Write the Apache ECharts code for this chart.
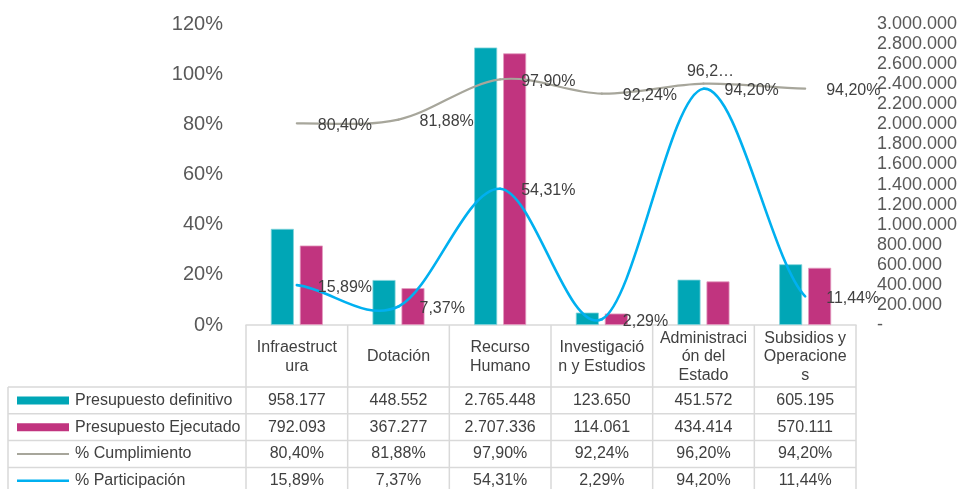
<!DOCTYPE html>
<html>
<head>
<meta charset="utf-8">
<script src="https://cdn.jsdelivr.net/npm/echarts@6/dist/echarts.min.js"></script>
<style>
html,body{margin:0;padding:0;background:#fff;}
#chart{width:961px;height:489px;}
</style>
</head>
<body>
<div id="chart"></div>
<script>
// ---- data ----
const categories = ['Infraestruct\nura', 'Dotación', 'Recurso\nHumano', 'Investigació\nn y Estudios', 'Administraci\nón del\nEstado', 'Subsidios y\nOperacione\ns'];
const presupuestoDefinitivo = [958177, 448552, 2765448, 123650, 451572, 605195];
const presupuestoEjecutado = [792093, 367277, 2707336, 114061, 434414, 570111];
const cumplimiento = [0.8040, 0.8188, 0.9790, 0.9224, 0.9620, 0.9420];
const participacion = [0.1589, 0.0737, 0.5431, 0.0229, 0.9420, 0.1144];
const seriesNames = ['Presupuesto definitivo', 'Presupuesto Ejecutado', '% Cumplimiento', '% Participación'];
const leftTicks = [0, 0.2, 0.4, 0.6, 0.8, 1.0, 1.2];
const rightTicksMax = 3000000;
const rightTickStep = 200000;

// ---- styles ----
const C_TEAL = '#00A6B6';
const C_MAG = '#C1347F';
const C_GRAY = '#A7A69B';
const C_BLUE = '#00B0F0';
const C_TEXT = '#404040';
const C_AXIS = '#595959';
const C_GRID = '#D9D9D9';
const FONT = '"Liberation Sans", Arial, sans-serif';

function fmtThousands(v) {
  if (v === 0) return '-';
  return String(Math.round(v)).replace(/\B(?=(\d{3})+(?!\d))/g, '.');
}
function fmtPct(v) {
  return (v * 100).toFixed(2).replace('.', ',') + '%';
}

// smooth line (Excel-like Catmull-Rom bezier) drawn through the axis scales
function smoothLineSeries(name, values, color, width, z, truncateIdx) {
  return {
    name: name, type: 'custom', yAxisIndex: 0, z: z,
    data: values.map((v, i) => [i, v]),
    renderItem: function (params, api) {
      const i = params.dataIndex;
      const pt = k => api.coord([k, values[Math.max(0, Math.min(values.length - 1, k))]]);
      const children = [];
      const p1 = pt(i);
      if (i < values.length - 1) {
        const p0 = pt(i - 1), p2 = pt(i + 1), p3 = pt(i + 2);
        children.push({
          type: 'bezierCurve',
          shape: {
            x1: p1[0], y1: p1[1], x2: p2[0], y2: p2[1],
            cpx1: p1[0] + (p2[0] - p0[0]) / 6, cpy1: p1[1] + (p2[1] - p0[1]) / 6,
            cpx2: p2[0] - (p3[0] - p1[0]) / 6, cpy2: p2[1] - (p3[1] - p1[1]) / 6
          },
          style: {stroke: color, lineWidth: width, fill: null, lineCap: 'round'}
        });
      }
      const txt = fmtPct(values[i]);
      if (i === truncateIdx) {
        children.push({type: 'text', z2: 10, style: {text: txt.slice(0, 4) + '…', x: p1[0] + 7, y: p1[1] - 12,
          textAlign: 'center', textVerticalAlign: 'middle', fill: C_TEXT, font: '16px ' + FONT}});
      } else {
        children.push({type: 'text', z2: 10, style: {text: txt, x: p1[0] + 21, y: p1[1] + 2,
          textAlign: 'left', textVerticalAlign: 'middle', fill: C_TEXT, font: '16px ' + FONT}});
      }
      return {type: 'group', children: children};
    }
  };
}

const chart = echarts.init(document.getElementById('chart'), null, {renderer: 'canvas'});

const gridLeft = 246, gridRight = 105, gridTop = 24, gridBottom = 164;

const option = {
  animation: false,
  backgroundColor: '#fff',
  textStyle: {fontFamily: FONT},
  grid: {left: gridLeft, right: gridRight, top: gridTop, bottom: gridBottom},
  xAxis: {
    type: 'category',
    data: categories,
    axisLabel: {show: false},
    axisTick: {show: false},
    axisLine: {lineStyle: {color: C_GRID, width: 1.5}},
    splitLine: {show: false}
  },
  yAxis: [
    {
      type: 'value', position: 'left',
      min: leftTicks[0], max: leftTicks[leftTicks.length - 1], interval: 0.2,
      axisLine: {show: false}, axisTick: {show: false}, splitLine: {show: false},
      axisLabel: {color: C_AXIS, fontSize: 20, margin: 23, fontFamily: FONT,
        formatter: v => Math.round(v * 100) + '%'}
    },
    {
      type: 'value', position: 'right',
      min: 0, max: rightTicksMax, interval: rightTickStep,
      axisLine: {show: false}, axisTick: {show: false}, splitLine: {show: false},
      axisLabel: {color: C_AXIS, fontSize: 18, margin: 21, align: 'left', fontFamily: FONT,
        formatter: v => fmtThousands(v)}
    }
  ],
  series: [
    {
      name: seriesNames[0], type: 'bar', yAxisIndex: 1, data: presupuestoDefinitivo,
      barWidth: 23, barGap: '26%',
      itemStyle: {color: C_TEAL, borderColor: '#7fd3da', borderWidth: 0.8}
    },
    {
      name: seriesNames[1], type: 'bar', yAxisIndex: 1, data: presupuestoEjecutado,
      barWidth: 23, barGap: '26%',
      itemStyle: {color: C_MAG, borderColor: '#e39bbf', borderWidth: 0.8}
    },
    smoothLineSeries(seriesNames[2], cumplimiento, C_GRAY, 2.2, 5, 4),
    smoothLineSeries(seriesNames[3], participacion, C_BLUE, 2.6, 6, -1)
  ]
};

chart.setOption(option);

// ---- data table under the chart, columns aligned to the category axis ----
const centers = categories.map((c, i) => chart.convertToPixel({xAxisIndex: 0}, i));
const band = centers.length > 1 ? centers[1] - centers[0] : 100;
const bounds = [centers[0] - band / 2].concat(centers.map(c => c + band / 2));
const axisY = chart.convertToPixel({yAxisIndex: 0}, 0);
const headerBottom = axisY + 62;
const rowH = 26.8;
const tableLeft = 8;
const rowsData = [
  {name: seriesNames[0], vals: presupuestoDefinitivo.map(fmtThousands), kind: 'rect', color: C_TEAL},
  {name: seriesNames[1], vals: presupuestoEjecutado.map(fmtThousands), kind: 'rect', color: C_MAG},
  {name: seriesNames[2], vals: cumplimiento.map(fmtPct), kind: 'line', color: C_GRAY},
  {name: seriesNames[3], vals: participacion.map(fmtPct), kind: 'line', color: C_BLUE}
];
const tableBottom = headerBottom + rowH * rowsData.length;
const g = [];
const lineStyle = {stroke: C_GRID, lineWidth: 1.5};
bounds.forEach(x => {
  g.push({type: 'line', shape: {x1: x, y1: axisY, x2: x, y2: tableBottom}, style: lineStyle, silent: true});
});
g.push({type: 'line', shape: {x1: tableLeft, y1: headerBottom, x2: tableLeft, y2: tableBottom}, style: lineStyle, silent: true});
for (let r = 0; r <= rowsData.length; r++) {
  const y = headerBottom + r * rowH;
  g.push({type: 'line', shape: {x1: tableLeft, y1: y, x2: bounds[bounds.length - 1], y2: y}, style: lineStyle, silent: true});
}
categories.forEach((c, i) => {
  g.push({type: 'text', silent: true, style: {text: c, x: centers[i], y: (axisY + headerBottom) / 2 + 1,
    textAlign: 'center', textVerticalAlign: 'middle', fill: C_TEXT, font: '16px ' + FONT, lineHeight: 18.5}});
});
rowsData.forEach((row, r) => {
  const cy = headerBottom + r * rowH + rowH / 2;
  if (row.kind === 'rect') {
    g.push({type: 'rect', silent: true, shape: {x: 17, y: cy - 4, width: 52, height: 8}, style: {fill: row.color}});
  } else {
    g.push({type: 'line', silent: true, shape: {x1: 17, y1: cy, x2: 69, y2: cy},
      style: {stroke: row.color, lineWidth: row.color === C_BLUE ? 2.6 : 2.2}});
  }
  g.push({type: 'text', silent: true, style: {text: row.name, x: 75, y: cy,
    textAlign: 'left', textVerticalAlign: 'middle', fill: C_TEXT, font: '16px ' + FONT}});
  row.vals.forEach((v, i) => {
    g.push({type: 'text', silent: true, style: {text: v, x: centers[i], y: cy,
      textAlign: 'center', textVerticalAlign: 'middle', fill: C_TEXT, font: '16px ' + FONT}});
  });
});
chart.setOption({graphic: g});
</script>
</body>
</html>
